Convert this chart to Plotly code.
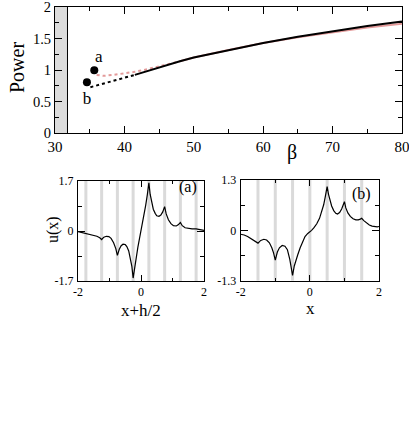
import plotly.graph_objects as go

# ---------------- top panel data ----------------
beta_black_solid = [41.5, 44, 46, 48, 50, 55, 60, 65, 70, 75, 80]
power_black_solid = [0.925, 1.01, 1.08, 1.14, 1.20, 1.32, 1.43, 1.53, 1.62, 1.70, 1.77]

beta_red_solid = [48, 50, 55, 60, 65, 70, 75, 80]
power_red_solid = [1.14, 1.20, 1.32, 1.43, 1.52, 1.60, 1.675, 1.735]

beta_red_dot = [36.0, 37.0, 38.4, 39.9, 41.3, 42.7, 44.2, 46.1, 48.0]
power_red_dot = [0.925, 0.91, 0.925, 0.945, 0.97, 1.00, 1.04, 1.09, 1.14]

beta_black_dot = [35.1, 36.5, 37.4, 38.9, 39.4, 40.3, 41.5]
power_black_dot = [0.73, 0.77, 0.80, 0.84, 0.86, 0.89, 0.925]

beta_points = [35.66, 34.6]
power_points = [1.0, 0.81]
point_labels = ["a", "b"]
label_beta = [36.3, 34.6]
label_power = [1.19, 0.53]

shade_beta = [30, 31.8]

# ---------------- panel (a) data ----------------
xa = [-2.0, -1.93, -1.85, -1.75, -1.62, -1.5, -1.4, -1.31, -1.25, -1.18, -1.1, -1.02,
      -0.95, -0.87, -0.8, -0.75, -0.69, -0.63, -0.57, -0.5, -0.45, -0.39, -0.33, -0.29,
      -0.25, -0.2, -0.15, -0.1, -0.05, 0.0, 0.05, 0.1, 0.15, 0.2, 0.25, 0.29, 0.33, 0.39,
      0.45, 0.5, 0.57, 0.63, 0.69, 0.75, 0.8, 0.87, 0.95, 1.03, 1.12, 1.18, 1.25, 1.31,
      1.4, 1.5, 1.62, 1.75, 1.85, 1.93, 2.0]
ua = [-0.02, -0.04, -0.06, -0.08, -0.11, -0.14, -0.18, -0.23, -0.29, -0.21, -0.18, -0.19,
      -0.25, -0.40, -0.60, -0.83, -0.62, -0.50, -0.45, -0.46, -0.53, -0.68, -0.95, -1.20,
      -1.60, -1.22, -0.88, -0.56, -0.27, 0.0, 0.27, 0.56, 0.88, 1.23, 1.64, 1.25, 1.0, 0.74,
      0.60, 0.52, 0.50, 0.54, 0.65, 0.83, 0.58, 0.38, 0.25, 0.18, 0.17, 0.21, 0.29, 0.18,
      0.11, 0.085, 0.075, 0.07, 0.05, 0.03, 0.02]
wells_a = [-1.75, -1.25, -0.75, -0.25, 0.25, 0.75, 1.25, 1.75]

# ---------------- panel (b) data ----------------
xb = [-2.0, -1.9, -1.8, -1.7, -1.6, -1.5, -1.42, -1.33, -1.25, -1.17, -1.1, -1.05, -1.0,
      -0.94, -0.88, -0.8, -0.72, -0.65, -0.58, -0.54, -0.5, -0.45, -0.4, -0.35, -0.28,
      -0.21, -0.14, -0.06, 0.0, 0.05, 0.12, 0.2, 0.28, 0.34, 0.4, 0.44, 0.47, 0.5, 0.54,
      0.58, 0.63, 0.69, 0.75, 0.8, 0.86, 0.92, 0.96, 1.0, 1.04, 1.1, 1.17, 1.25, 1.33,
      1.4, 1.46, 1.5, 1.56, 1.64, 1.72, 1.8, 1.88, 1.95, 2.0]
ub = [-0.10, -0.12, -0.16, -0.21, -0.27, -0.33, -0.26, -0.23, -0.25, -0.32, -0.45, -0.58,
      -0.77, -0.56, -0.45, -0.39, -0.41, -0.50, -0.75, -0.92, -1.16, -0.92, -0.76, -0.63,
      -0.45, -0.29, -0.16, -0.08, -0.04, 0.0, 0.07, 0.17, 0.31, 0.47, 0.66, 0.84, 0.97,
      1.13, 0.93, 0.78, 0.63, 0.51, 0.44, 0.42, 0.46, 0.55, 0.63, 0.74, 0.58, 0.45, 0.36,
      0.30, 0.27, 0.27, 0.29, 0.31, 0.25, 0.19, 0.14, 0.11, 0.09, 0.09, 0.10]
wells_b = [-1.5, -1.0, -0.5, 0.0, 0.5, 1.0, 1.5]

FONT = "Liberation Serif, Times New Roman, serif"
RED = "#e39a9a"
GRAY = "#dadada"

fig = go.Figure()

# top panel traces
fig.add_trace(go.Scatter(x=beta_red_solid, y=power_red_solid, mode="lines",
                         line=dict(color=RED, width=2), xaxis="x", yaxis="y"))
fig.add_trace(go.Scatter(x=beta_red_dot, y=power_red_dot, mode="lines",
                         line=dict(color=RED, width=2, dash="dot"), xaxis="x", yaxis="y"))
fig.add_trace(go.Scatter(x=beta_black_dot, y=power_black_dot, mode="lines",
                         line=dict(color="black", width=2, dash="dot"), xaxis="x", yaxis="y"))
fig.add_trace(go.Scatter(x=beta_black_solid, y=power_black_solid, mode="lines",
                         line=dict(color="black", width=2), xaxis="x", yaxis="y"))
fig.add_trace(go.Scatter(x=beta_points, y=power_points, mode="markers",
                         marker=dict(color="black", size=8), xaxis="x", yaxis="y"))
fig.add_trace(go.Scatter(x=label_beta, y=label_power, mode="text", text=point_labels,
                         textfont=dict(family=FONT, size=17, color="black"),
                         xaxis="x", yaxis="y"))

# bottom panels
fig.add_trace(go.Scatter(x=xa, y=ua, mode="lines", line=dict(color="black", width=1.2),
                         xaxis="x2", yaxis="y2"))
fig.add_trace(go.Scatter(x=xb, y=ub, mode="lines", line=dict(color="black", width=1.2),
                         xaxis="x3", yaxis="y3"))

shapes = [
    dict(type="rect", xref="x", yref="y", x0=shade_beta[0], x1=shade_beta[1], y0=0, y1=2,
         fillcolor="#dcdcdc", line=dict(width=0), layer="below"),
    dict(type="line", xref="x", yref="y", x0=shade_beta[1], x1=shade_beta[1], y0=0, y1=2,
         line=dict(color="black", width=1)),
]
for w in wells_a:
    shapes.append(dict(type="line", xref="x2", yref="y2", x0=w, x1=w, y0=-1.7, y1=1.7,
                       line=dict(color=GRAY, width=3), layer="below"))
for w in wells_b:
    shapes.append(dict(type="line", xref="x3", yref="y3", x0=w, x1=w, y0=-1.3, y1=1.3,
                       line=dict(color=GRAY, width=3), layer="below"))


def ax(rng, domain, anchor, tickvals, ticktext, minor_dtick, size, ticklen, standoff=None):
    d = dict(range=rng, domain=domain, anchor=anchor, showgrid=False, zeroline=False,
             showline=True, linecolor="black", linewidth=1, mirror="ticks",
             ticks="inside", ticklen=ticklen, tickcolor="black", tickwidth=1,
             tickmode="array", tickvals=tickvals, ticktext=ticktext,
             tickfont=dict(family=FONT, size=size, color="black"),
             minor=dict(ticks="inside", ticklen=max(3, ticklen - 3), tickcolor="black",
                        dtick=minor_dtick, showgrid=False),
             ticklabeloverflow="allow",
             automargin=False, fixedrange=True)
    if standoff is not None:
        d["ticklabelstandoff"] = standoff
    return d

W, H = 409, 444
def px_x(a, b):
    return [a / W, b / W]
def px_y(top, bottom):
    return [1 - bottom / H, 1 - top / H]

fig.update_layout(
    width=W, height=H, autosize=False,
    margin=dict(l=0, r=0, t=0, b=0, pad=0, autoexpand=False),
    paper_bgcolor="white", plot_bgcolor="white",
    showlegend=False,
    font=dict(family=FONT, color="black"),
    shapes=shapes,
    xaxis=ax([30, 80], px_x(55, 402), "y", [30, 40, 50, 60, 70, 80],
             ["30", "40", "50", "60", "70", "80"], 5, 15, 7),
    yaxis=ax([0, 2], px_y(7, 133.3), "x", [0, 0.5, 1, 1.5, 2],
             ["0", "0.5", "1", "1.5", "2"], 0.25, 14.5, 7),
    xaxis2=ax([-2, 2], px_x(78, 204), "y2", [-2, 0, 2], ["-2", "0", "2"], 1, 12, 6),
    yaxis2=ax([-1.7, 1.7], px_y(181, 281), "x2", [-1.7, 0, 1.7], ["-1.7", "0", "1.7"],
              0.85, 12, 7, 1),
    xaxis3=ax([-2, 2], px_x(240.7, 379), "y3", [-2, 0, 2], ["-2", "0", "2"], 1, 12, 6),
    yaxis3=ax([-1.3, 1.3], px_y(180, 280.7), "x3", [-1.3, 0, 1.3], ["-1.3", "0", "1.3"],
              0.65, 12, 7, 1),
    annotations=[
        dict(text="Power", x=17 / W, y=1 - 68 / H, xref="paper", yref="paper",
             textangle=-90, showarrow=False, font=dict(family=FONT, size=20),
             xanchor="center", yanchor="middle"),
        dict(text="β", x=292 / W, y=1 - 153 / H, xref="paper", yref="paper",
             showarrow=False, font=dict(family=FONT, size=20),
             xanchor="center", yanchor="middle"),
        dict(text="u(x)", x=53 / W, y=1 - 229 / H, xref="paper", yref="paper",
             textangle=-90, showarrow=False, font=dict(family=FONT, size=16),
             xanchor="center", yanchor="middle"),
        dict(text="x+h/2", x=141 / W, y=1 - 310 / H, xref="paper", yref="paper",
             showarrow=False, font=dict(family=FONT, size=17),
             xanchor="center", yanchor="middle"),
        dict(text="x", x=310 / W, y=1 - 308 / H, xref="paper", yref="paper",
             showarrow=False, font=dict(family=FONT, size=17),
             xanchor="center", yanchor="middle"),
        dict(text="(a)", x=1.5, y=1.5, xref="x2", yref="y2", showarrow=False,
             font=dict(family=FONT, size=16), xanchor="center", yanchor="middle"),
        dict(text="(b)", x=1.5, y=0.95, xref="x3", yref="y3", showarrow=False,
             font=dict(family=FONT, size=16), xanchor="center", yanchor="middle"),
    ],
)

fig.write_html("out.html",
               config={"displayModeBar": False, "staticPlot": True},
               post_script="document.body.style.margin='0';document.body.style.overflow='hidden';")
